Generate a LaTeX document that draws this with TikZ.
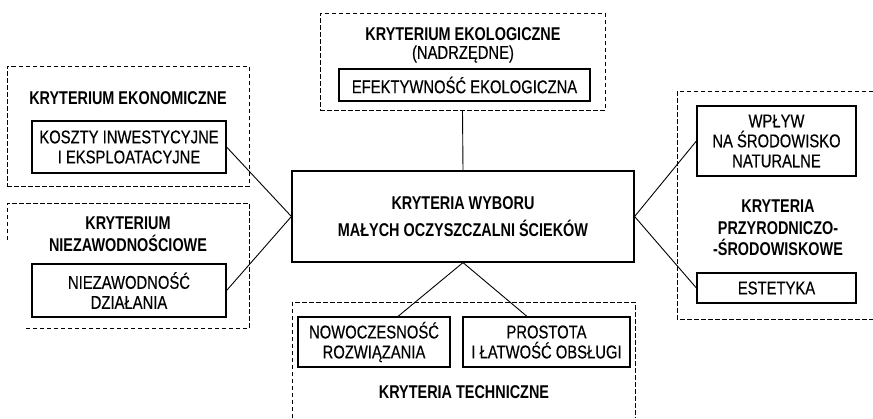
\documentclass[tikz,border=0pt]{standalone}
\usepackage{fontspec}
\setmainfont{Liberation Sans}[UprightFeatures={FakeStretch=0.80, FakeBold=0.4}, BoldFeatures={FakeStretch=0.78}]
\usetikzlibrary{calc}
\newcommand{\fsz}{\fontsize{18.5}{20}\selectfont}
\newcommand{\fszt}{\fontsize{18.5}{21.5}\selectfont\bfseries}
\begin{document}
\begin{tikzpicture}[x=1pt,y=-1pt,
  box/.style={draw, line width=1.2pt, inner sep=0pt, align=center, font=\fsz},
  frame/.style={draw, line width=0.95pt, dash pattern=on 4.5pt off 2.5pt, inner sep=0pt},
  title/.style={align=center, font=\fszt, inner sep=0pt},
  plain/.style={align=center, font=\fsz, inner sep=0pt},
  link/.style={line width=0.9pt}]
\useasboundingbox (0,0) rectangle (873,418);

% ecological
\node[frame, minimum width=285pt, minimum height=97pt] (ecof) at (462.5,61.5) {};
\node[title] (ecot) at (463,34) {KRYTERIUM EKOLOGICZNE};
\node[plain] (ecos) at (463,54) {(NADRZĘDNE)};
\node[box, minimum width=251pt, minimum height=32pt] (ef) at (464.5,85) {EFEKTYWNOŚĆ EKOLOGICZNA};

% centre
\node[box, font=\fszt, minimum width=342pt, minimum height=91pt] (ctr) at (463,216.5)
  {KRYTERIA WYBORU\\[5pt]MAŁYCH OCZYSZCZALNI ŚCIEKÓW};

% economic
\node[frame, minimum width=242pt, minimum height=120pt] (ekf) at (128,126) {};
\node[title] (ekt) at (128,98) {KRYTERIUM EKONOMICZNE};
\node[box, minimum width=194pt, minimum height=52pt] (ko) at (129,147)
  {KOSZTY INWESTYCYJNE\\I EKSPLOATACYJNE};

% reliability
\coordinate (nf1) at (7,240);
\coordinate (nf2) at (7,203);
\coordinate (nf3) at (249,203);
\coordinate (nf4) at (249,328);
\coordinate (nf5) at (25,328);
\draw[frame] (nf1) -- (nf2) -- (nf3) -- (nf4) -- (nf5);
\node[title] (nzt) at (128,234) {KRYTERIUM\\NIEZAWODNOŚCIOWE};
\node[box, minimum width=194pt, minimum height=53pt] (nz) at (129,290.5)
  {NIEZAWODNOŚĆ\\DZIAŁANIA};

% technical
\coordinate (tf1) at (292,418);
\coordinate (tf2) at (292,302);
\coordinate (tf3) at (635,302);
\coordinate (tf4) at (635,418);
\draw[frame] (tf1) -- (tf2) -- (tf3) -- (tf4);
\node[box, minimum width=152pt, minimum height=50pt] (nw) at (374,342)
  {NOWOCZESNOŚĆ\\ROZWIĄZANIA};
\node[box, minimum width=167pt, minimum height=50pt] (pr) at (546.5,342)
  {PROSTOTA\\I ŁATWOŚĆ OBSŁUGI};
\node[title] (tt) at (464,392) {KRYTERIA TECHNICZNE};

% environmental
\coordinate (pf1) at (873,91);
\coordinate (pf2) at (677,91);
\coordinate (pf3) at (677,319);
\coordinate (pf4) at (873,319);
\draw[frame] (pf1) -- (pf2) -- (pf3) -- (pf4);
\node[box, minimum width=159pt, minimum height=70pt] (wp) at (776.5,141)
  {WPŁYW\\NA ŚRODOWISKO\\NATURALNE};
\node[title] (pt) at (778,228) {KRYTERIA\\PRZYRODNICZO-\\-ŚRODOWISKOWE};
\node[box, minimum width=159pt, minimum height=30pt] (es) at (776.5,288) {ESTETYKA};

% connectors
\draw[link] (ecof.south) -- (ctr.north);
\draw[link] (ko.east) -- (ctr.west);
\draw[link] (nz.east) -- (ctr.west);
\draw[link] (ctr.south) -- ($(nw.north)+(24,0)$);
\draw[link] (ctr.south) -- ($(pr.north)+(-19.5,0)$);
\draw[link] (ctr.east) -- (wp.west);
\draw[link] (ctr.east) -- (es.west);
\end{tikzpicture}
\end{document}
